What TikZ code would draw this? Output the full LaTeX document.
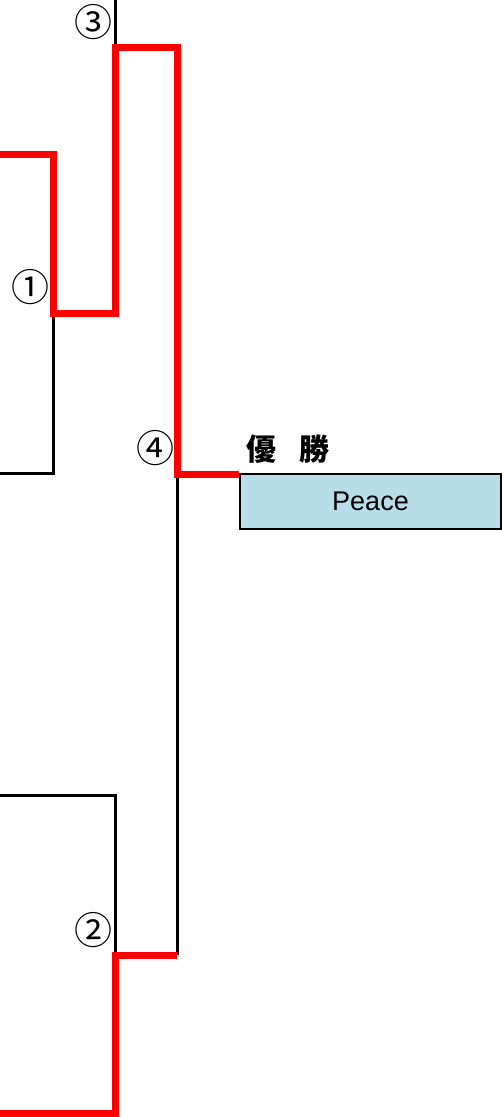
\documentclass[tikz,border=0pt]{standalone}
\usepackage{fontspec}
\setmainfont{Liberation Sans}
\newfontfamily\cjk{Noto Sans CJK JP}
\definecolor{peace}{RGB}{183,221,232}

\begin{document}
\begin{tikzpicture}[x=1pt,y=-1pt]
	\tikzset{
		num/.style={font=\cjk\fontsize{38}{38}\selectfont, inner sep=0pt},
		lose/.style={line width=3pt},
		win/.style={red, line width=7pt}
	}
	\useasboundingbox (0,0) rectangle (501,1117);
	
	\coordinate (s1a) at (0,154);
	\coordinate (s1b) at (0,473);
	\coordinate (s2a) at (0,795);
	\coordinate (s2b) at (0,1113);
	\coordinate (top3) at (115,0);
	\coordinate (m1) at (53,313);
	\coordinate (m2) at (115,955);
	\coordinate (m3) at (115,47);
	\coordinate (m4) at (177,474);
	\coordinate (m4b) at (177,955);
	\coordinate (goal) at (239,474);
	
	% losing lines
	\draw[lose] (top3) -- (m3);
	\draw[lose] (s1b) -| (m1);
	\draw[lose] (s2a) -| (m2);
	\draw[lose] (m4) -- (m4b);
	
	% winning path
	\draw[win] (s1a) -| (m1) -| (m3) -| (m4) -- (goal);
	\draw[win] (s2b) -| (m2) -- (m4b);
	
	\node[num] (n1) at (31,287) {①};
	\node[num] (n2) at (93,930) {②};
	\node[num] (n3) at (93,22) {③};
	\node[num] (n4) at (155,448) {④};
	
	\node[font=\cjk\bfseries\fontsize{30}{30}\selectfont] (title) at (288,449) {優\hspace{0.75em}勝};
	\node[draw, line width=2pt, fill=peace, minimum width=261pt, minimum height=55pt,
		inner sep=0pt, anchor=north west, font=\fontsize{27}{27}\selectfont] (champ) at (239,473) {Peace};
	
\end{tikzpicture}
\end{document}
